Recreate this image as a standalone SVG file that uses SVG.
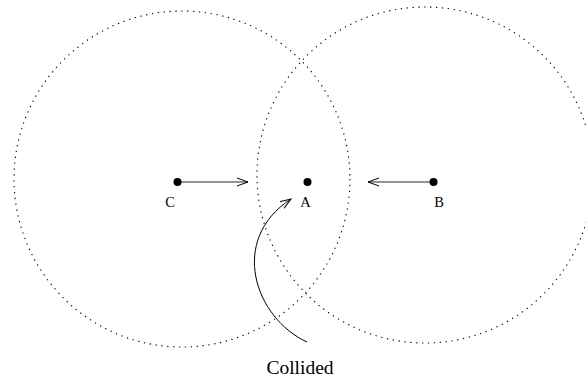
<svg xmlns="http://www.w3.org/2000/svg" width="586" height="377" viewBox="0 0 586 377">
<style>
.range{fill:none;stroke:#000;stroke-width:1.1;stroke-dasharray:1.3 4.6}
.dot{fill:#000}
.lbl{font-family:"Liberation Serif",serif;font-size:14.5px;fill:#000;text-anchor:middle}
.mv{stroke:#6e6e6e;stroke-width:1.6;fill:none}
.head{stroke:#000;stroke-width:1;fill:none}
</style>
<defs>
<marker id="open" viewBox="0 0 12 10" refX="11" refY="5" markerWidth="12" markerHeight="10" markerUnits="userSpaceOnUse" orient="auto">
<path d="M0,1 L11,5 L0,9" fill="none" stroke="#000" stroke-width="1"/>
</marker>
</defs>
<rect width="586" height="377" fill="#fff"/>
<g id="ranges">
<circle class="range" cx="182" cy="179" r="168"/>
<circle class="range" cx="425" cy="175" r="168"/>
</g>
<g id="connectors">
<line class="mv" x1="178" y1="182" x2="248" y2="182" marker-end="url(#open)"/>
<line class="mv" x1="433" y1="182" x2="368" y2="182" marker-end="url(#open)"/>
<path class="head" d="M307,342 C255,318 228,240 291,199" marker-end="url(#open)"/>
</g>
<g id="node-C">
<circle class="dot" cx="177.5" cy="182" r="4"/>
<text class="lbl" x="170" y="206.5">C</text>
</g>
<g id="node-A">
<circle class="dot" cx="307.5" cy="182" r="4"/>
<text class="lbl" x="305.5" y="206.5">A</text>
</g>
<g id="node-B">
<circle class="dot" cx="433.5" cy="182" r="4"/>
<text class="lbl" x="439" y="206.5">B</text>
</g>
<g id="label-collided">
<text class="lbl" x="300" y="374" style="font-size:19.5px">Collided</text>
</g>
</svg>
